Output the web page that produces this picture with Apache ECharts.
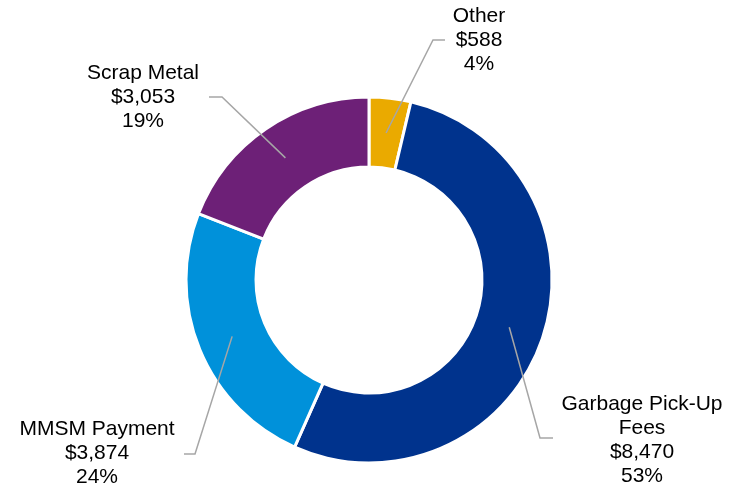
<!DOCTYPE html>
<html>
<head>
<meta charset="utf-8">
<script src="https://cdn.jsdelivr.net/npm/echarts@6/dist/echarts.min.js"></script>
<style>
  html, body { margin: 0; padding: 0; background: #ffffff; }
  #chart { width: 742px; height: 489px; }
</style>
</head>
<body>
<div id="chart"></div>
<script>
// Revenue sources (in dollars), clockwise from 12 o'clock
const categories = ['Other', 'Garbage Pick-Up\nFees', 'MMSM Payment', 'Scrap Metal'];
const values = [588, 8470, 3874, 3053];
const colors = ['#EAAA00', '#00338D', '#0091DA', '#6D2077'];

// Ring geometry (px)
const CX = 369, CY = 280, R_IN = 113, R_OUT = 183;
const R_LEADER = (R_IN + R_OUT) / 2;

// Label text centre, leader elbow and leader end for each slice
const labelPlacement = [
  { text: [479, 40],  elbow: [433, 40],  end: [445, 40] },
  { text: [642, 440], elbow: [540, 438], end: [553, 438] },
  { text: [97, 453],  elbow: [195, 454], end: [184, 454] },
  { text: [143, 97],  elbow: [222, 97],  end: [209, 97] }
];

const total = values.reduce((a, b) => a + b, 0);
// Mid-angle of each slice, clockwise from the top, in radians
const midAngles = [];
{
  let acc = 0;
  values.forEach(v => {
    midAngles.push(((acc + v / 2) / total) * Math.PI * 2);
    acc += v;
  });
}

const baseRing = {
  type: 'pie',
  center: [CX, CY],
  radius: [R_IN, R_OUT],
  startAngle: 90,
  clockwise: true,
  avoidLabelOverlap: false,
  silent: true,
  emphasis: { scale: false, disabled: true }
};

const chart = echarts.init(document.getElementById('chart'), null, { renderer: 'canvas' });

chart.setOption({
  animation: false,
  backgroundColor: '#ffffff',
  series: [
    // Coloured ring
    Object.assign({}, baseRing, {
      z: 2,
      itemStyle: { borderColor: '#ffffff', borderWidth: 3 },
      data: categories.map((name, i) => ({
        name: name,
        value: values[i],
        itemStyle: { color: colors[i] }
      })),
      label: { show: false },
      labelLine: { show: false }
    }),
    // Transparent overlay carrying the labels, so leaders sit above the ring
    Object.assign({}, baseRing, {
      z: 5,
      itemStyle: { color: 'rgba(0,0,0,0)', borderWidth: 0 },
      data: categories.map((name, i) => ({ name: name, value: values[i] })),
      label: {
        show: true,
        position: 'outside',
        color: '#000000',
        fontFamily: 'Liberation Sans, Arial, sans-serif',
        fontSize: 21,
        lineHeight: 24,
        align: 'center',
        formatter: p => p.name + '\n$' + p.value.toLocaleString('en-US') + '\n' + Math.round(p.percent) + '%'
      },
      labelLine: {
        show: true,
        lineStyle: { color: '#A6A6A6', width: 1.5 }
      },
      labelLayout: function (params) {
        const i = params.dataIndex;
        const pl = labelPlacement[i];
        const a = midAngles[i];
        const start = [CX + R_LEADER * Math.sin(a), CY - R_LEADER * Math.cos(a)];
        return {
          x: pl.text[0],
          y: pl.text[1],
          align: 'center',
          verticalAlign: 'middle',
          labelLinePoints: [start, pl.elbow, pl.end]
        };
      }
    })
  ]
});
</script>
</body>
</html>
